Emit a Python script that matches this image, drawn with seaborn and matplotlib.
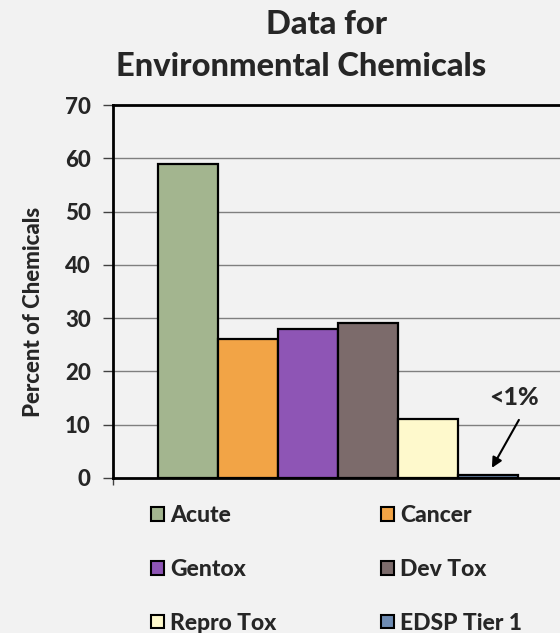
import matplotlib
matplotlib.use("Agg")
import matplotlib.pyplot as plt
import seaborn as sns
import pandas as pd
from matplotlib.patches import Patch

categories = ["Acute", "Cancer", "Gentox", "Dev Tox", "Repro Tox", "EDSP Tier 1"]
values = [59, 26, 28, 29, 11, 0.5]
colors = ["#A3B58F", "#F2A446", "#8E55B5", "#7C6B6B", "#FEF9CC", "#6E8BB2"]
title_lines = ["Data for", "Environmental Chemicals"]
ylabel = "Percent of Chemicals"
yticks = [0, 10, 20, 30, 40, 50, 60, 70]
note = "<1%"

sns.set_theme(style="white")
plt.rcParams["font.family"] = ["Lato", "DejaVu Sans"]
W = "black"
plt.rcParams["font.weight"] = W

bg = "#F2F2F2"
fig = plt.figure(figsize=(5.6, 6.33), dpi=100, facecolor=bg)
ax = fig.add_axes([113 / 560, 155 / 633, 450 / 560, 373 / 633])
ax.set_facecolor(bg)

df = pd.DataFrame({"group": ["all"] * len(categories), "cat": categories, "val": values})
sns.barplot(data=df, x="group", y="val", hue="cat", hue_order=categories,
            palette=colors, width=0.8, edgecolor="black", linewidth=1.6,
            saturation=1, legend=False, ax=ax)

ax.set_xlim(-0.5, 0.5)
ax.set_ylim(0, 70)
ax.set_yticks(yticks)
ax.set_yticklabels([str(t) for t in yticks], fontsize=16, fontweight=W)
ax.set_xticks([-0.5])
ax.set_xticklabels([""])
ax.tick_params(axis="y", direction="out", length=7, width=1, color="#404040", pad=9, left=True)
ax.tick_params(axis="x", direction="out", length=5, width=1, color="#404040", bottom=True)
ax.set_xlabel("")
ax.set_ylabel(ylabel, fontsize=16, fontweight=W)
ax.yaxis.set_label_coords(-0.153, 0.445)

for y in yticks[1:-1]:
    ax.axhline(y, color="#7F7F7F", lw=1.0, zorder=0)
for side in ["left", "bottom", "top"]:
    ax.spines[side].set_visible(True)
    ax.spines[side].set_color("black")
    ax.spines[side].set_linewidth(2)
ax.spines["right"].set_visible(False)

ax.annotate("", xy=(0.342, 1.9), xytext=(0.402, 10.9),
            arrowprops=dict(arrowstyle="-|>", color="black", lw=1.5,
                            mutation_scale=15, shrinkA=0, shrinkB=0))
ax.text(0.3915, 15.1, note, ha="center", va="center", fontsize=18, fontweight=W)

fig.text(327 / 560, 1 - 25 / 633, title_lines[0], ha="center", va="center",
         fontsize=23.5, fontweight=W)
fig.text(301 / 560, 1 - 66 / 633, title_lines[1], ha="center", va="center",
         fontsize=23.5, fontweight=W)

handles = [Patch(facecolor=c, edgecolor="black", linewidth=1.5, label=l)
           for c, l in zip(colors, categories)]
cols = [[0, 2, 4], [1, 3, 5]]
xs = [151, 381]
for col, x0 in zip(cols, xs):
    fig.legend([handles[i] for i in col], [categories[i] for i in col],
               ncol=1, loc="upper left", bbox_to_anchor=(x0 / 560, 1 - 505 / 633),
               frameon=False, prop={"weight": W, "size": 16.5},
               handlelength=0.55, handleheight=0.55, handletextpad=0.3,
               labelspacing=1.43, borderaxespad=0, borderpad=0)

fig.savefig("out.png", dpi=100, facecolor=bg)
